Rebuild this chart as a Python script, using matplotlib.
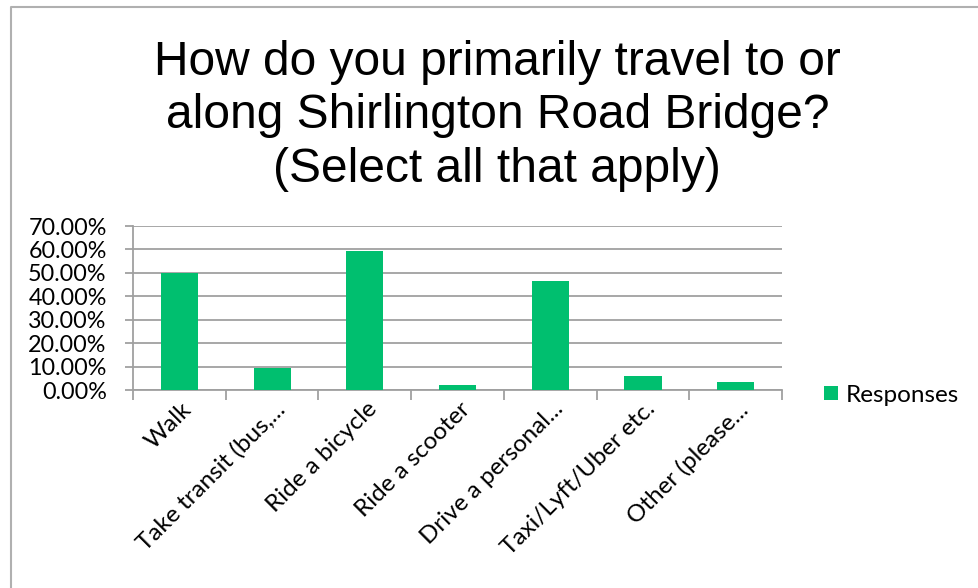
import numpy as np
import matplotlib
matplotlib.use("Agg")
import matplotlib.pyplot as plt
from matplotlib.lines import Line2D
from matplotlib.ticker import PercentFormatter

categories = ["Walk", "Take transit (bus,...", "Ride a bicycle", "Ride a scooter",
              "Drive a personal...", "Taxi/Lyft/Uber etc.", "Other (please..."]
responses = [49.8, 9.5, 59.5, 2.2, 46.5, 5.9, 3.5]

title = "How do you primarily travel to or\nalong Shirlington Road Bridge?\n(Select all that apply)"
bar_color = "#00BF6F"
grid_color = "#A0A0A0"

fig = plt.figure(figsize=(9.79, 5.88), dpi=100)
# chart frame: only top and left edges are visible in the crop
fig.lines.append(Line2D([0.0112, 0.0112, 1.0], [0.0, 0.988, 0.988], transform=fig.transFigure,
                        color="#B0B0B0", linewidth=1.5))

ax = fig.add_axes([0.1359, 0.3367, 0.6629, 0.2789])
x = np.arange(len(categories))
bars = ax.bar(x, responses, width=0.4, color=bar_color, zorder=3, label="Responses")

ax.set_xlim(-0.5, len(categories) - 0.5)
ax.set_ylim(0, 70)
ax.set_yticks(np.arange(0, 71, 10))
ax.yaxis.set_major_formatter(PercentFormatter(decimals=2))
ax.grid(axis="y", color=grid_color, linewidth=1.3, zorder=0)

for side in ["top", "right"]:
    ax.spines[side].set_visible(False)
for side in ["left", "bottom"]:
    ax.spines[side].set_color(grid_color)
    ax.spines[side].set_linewidth(1.3)

# category boundaries carry the x ticks
ax.set_xticks(np.arange(-0.5, len(categories)))
ax.set_xticklabels([])
ax.set_xticks(x + 0.02, minor=True)
ax.set_xticklabels(categories, minor=True, rotation=45, ha="right", va="top",
                   rotation_mode="anchor", fontsize=17.5, family="Lato")
ax.tick_params(axis="x", which="major", direction="out", length=7, color=grid_color, width=1.3)
ax.tick_params(axis="x", which="minor", length=0, pad=6)
ax.tick_params(axis="y", direction="out", length=6, color=grid_color, width=1.3, pad=13)
for lab in ax.get_yticklabels():
    lab.set_fontsize(16.8)
    lab.set_family("Lato")

fig.text(0.508, 0.803, title, ha="center", va="center", fontsize=34.5,
         family="Liberation Sans", linespacing=1.25)

fig.legend(handles=[bars], labels=["Responses"], loc="center left",
           bbox_to_anchor=(0.842, 0.328), frameon=False,
           prop={"family": "Lato", "size": 17.5}, handlelength=0.55,
           handleheight=0.55, handletextpad=0.32, borderpad=0, borderaxespad=0)

fig.savefig("out.png", dpi=100)
